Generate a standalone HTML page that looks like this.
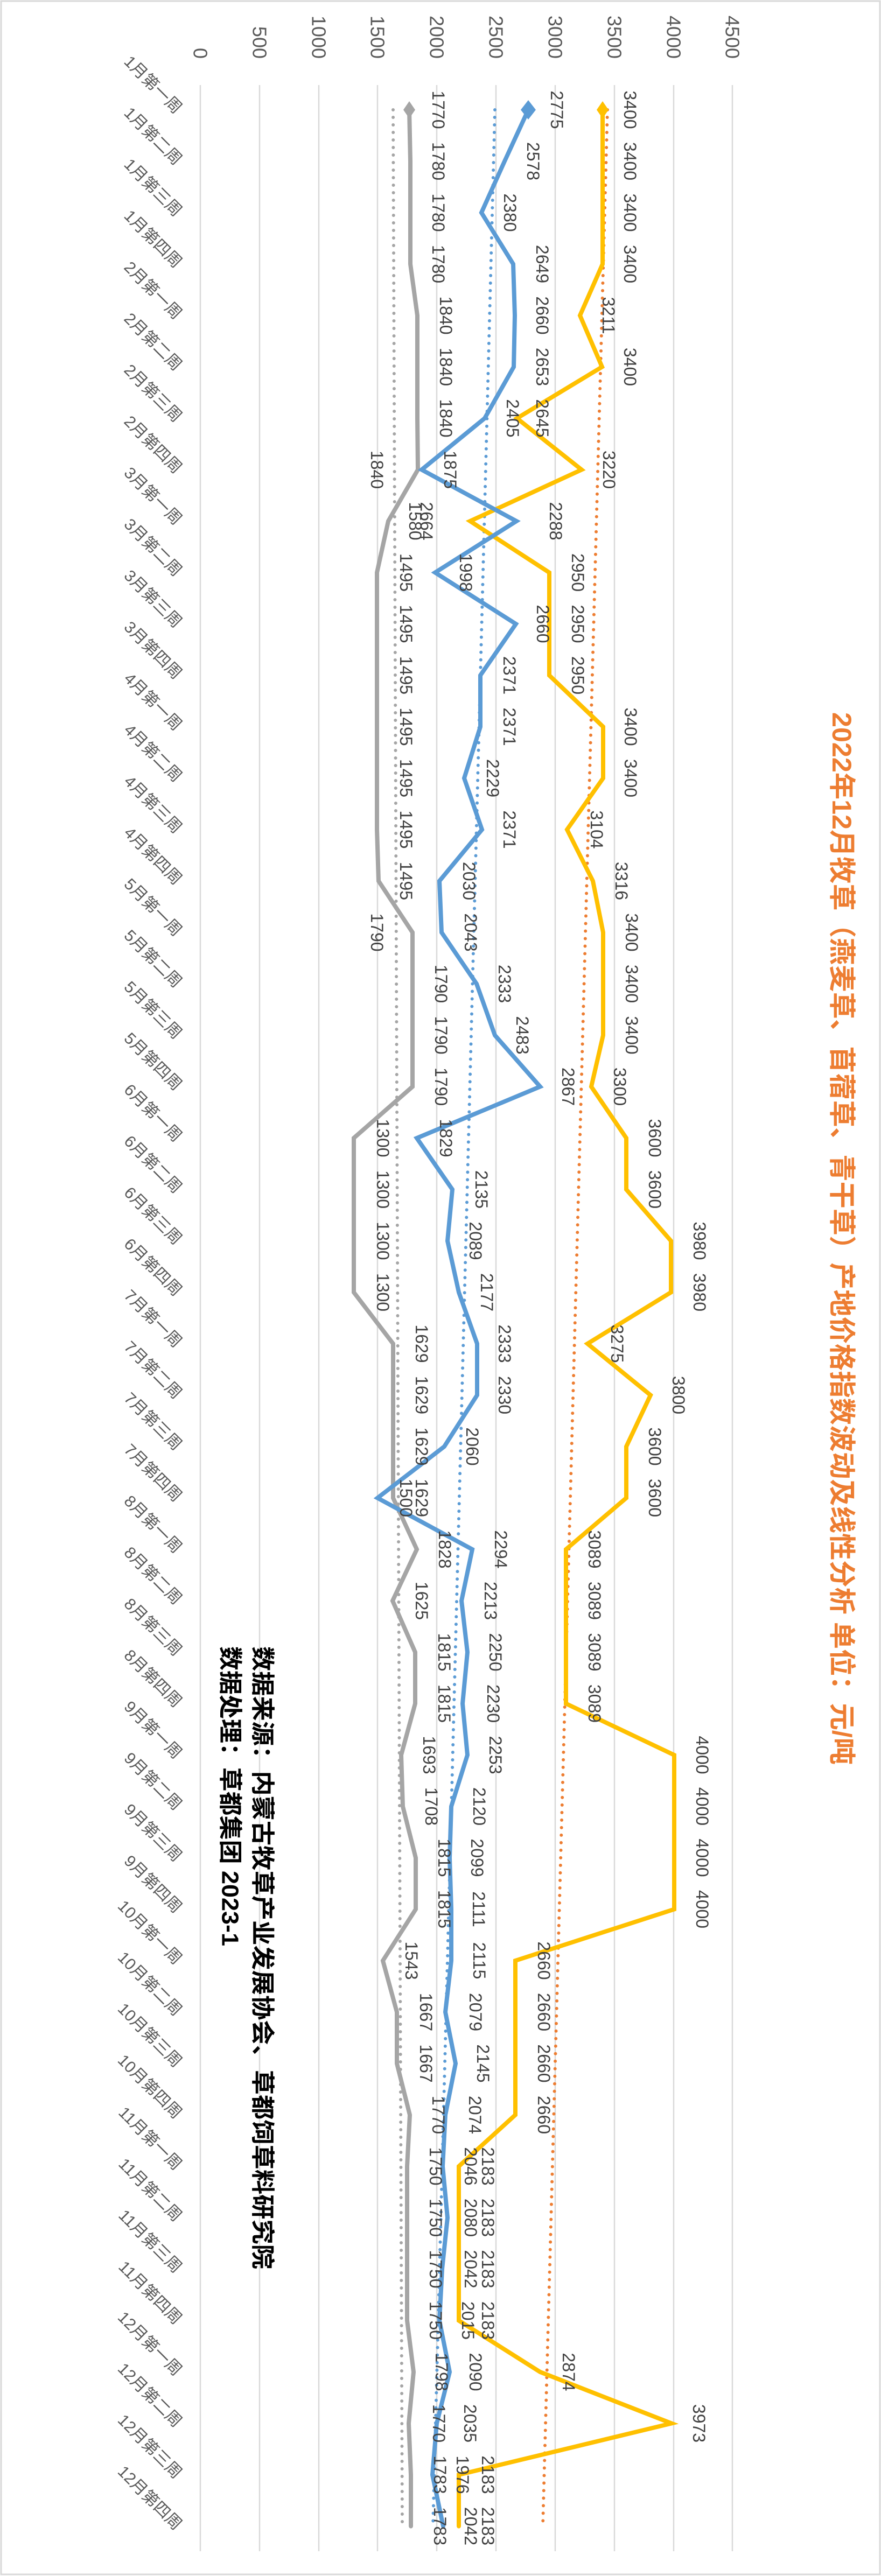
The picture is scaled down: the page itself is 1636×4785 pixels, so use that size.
<!DOCTYPE html>
<html><head><meta charset="utf-8"><style>
html,body{margin:0;padding:0;background:#fff;}
svg{display:block;}
text{font-family:"Liberation Sans","Noto Sans CJK SC",sans-serif;}
</style></head><body>
<svg width="1636" height="4785" viewBox="0 0 1636 4785" xmlns="http://www.w3.org/2000/svg">
<rect x="2" y="2" width="1632" height="4780" fill="#fff" stroke="#D9D9D9" stroke-width="3"/>
<!-- gridlines -->
<g stroke="#D9D9D9" stroke-width="2.5">
<line x1="372" y1="158" x2="372" y2="4739"/><line x1="482" y1="158" x2="482" y2="4739"/><line x1="592" y1="158" x2="592" y2="4739"/><line x1="701" y1="158" x2="701" y2="4739"/><line x1="811" y1="158" x2="811" y2="4739"/><line x1="921" y1="158" x2="921" y2="4739"/><line x1="1031" y1="158" x2="1031" y2="4739"/><line x1="1141" y1="158" x2="1141" y2="4739"/><line x1="1251" y1="158" x2="1251" y2="4739"/><line x1="1360" y1="158" x2="1360" y2="4739"/>
</g>
<!-- value axis labels -->
<g fill="#595959" font-size="36" text-anchor="end" dominant-baseline="central">
<text transform="translate(372,109) rotate(90)">0</text>
<text transform="translate(482,109) rotate(90)">500</text>
<text transform="translate(592,109) rotate(90)">1000</text>
<text transform="translate(701,109) rotate(90)">1500</text>
<text transform="translate(811,109) rotate(90)">2000</text>
<text transform="translate(921,109) rotate(90)">2500</text>
<text transform="translate(1031,109) rotate(90)">3000</text>
<text transform="translate(1141,109) rotate(90)">3500</text>
<text transform="translate(1251,109) rotate(90)">4000</text>
<text transform="translate(1360,109) rotate(90)">4500</text>
</g>
<!-- category labels -->
<g fill="#595959" font-size="30" text-anchor="end" dominant-baseline="central">
<text transform="translate(332,206) rotate(45)">1月第一周</text>
<text transform="translate(332,301.5) rotate(45)">1月第二周</text>
<text transform="translate(332,397) rotate(45)">1月第三周</text>
<text transform="translate(332,492.5) rotate(45)">1月第四周</text>
<text transform="translate(332,588) rotate(45)">2月第一周</text>
<text transform="translate(332,683.5) rotate(45)">2月第二周</text>
<text transform="translate(332,779) rotate(45)">2月第三周</text>
<text transform="translate(332,874.5) rotate(45)">2月第四周</text>
<text transform="translate(332,970) rotate(45)">3月第一周</text>
<text transform="translate(332,1065.5) rotate(45)">3月第二周</text>
<text transform="translate(332,1161) rotate(45)">3月第三周</text>
<text transform="translate(332,1256.5) rotate(45)">3月第四周</text>
<text transform="translate(332,1352) rotate(45)">4月第一周</text>
<text transform="translate(332,1447.5) rotate(45)">4月第二周</text>
<text transform="translate(332,1543) rotate(45)">4月第三周</text>
<text transform="translate(332,1638.5) rotate(45)">4月第四周</text>
<text transform="translate(332,1734) rotate(45)">5月第一周</text>
<text transform="translate(332,1829.5) rotate(45)">5月第二周</text>
<text transform="translate(332,1925) rotate(45)">5月第三周</text>
<text transform="translate(332,2020.5) rotate(45)">5月第四周</text>
<text transform="translate(332,2116) rotate(45)">6月第一周</text>
<text transform="translate(332,2211.5) rotate(45)">6月第二周</text>
<text transform="translate(332,2307) rotate(45)">6月第三周</text>
<text transform="translate(332,2402.5) rotate(45)">6月第四周</text>
<text transform="translate(332,2498) rotate(45)">7月第一周</text>
<text transform="translate(332,2593.5) rotate(45)">7月第二周</text>
<text transform="translate(332,2689) rotate(45)">7月第三周</text>
<text transform="translate(332,2784.5) rotate(45)">7月第四周</text>
<text transform="translate(332,2880) rotate(45)">8月第一周</text>
<text transform="translate(332,2975.5) rotate(45)">8月第二周</text>
<text transform="translate(332,3071) rotate(45)">8月第三周</text>
<text transform="translate(332,3166.5) rotate(45)">8月第四周</text>
<text transform="translate(332,3262) rotate(45)">9月第一周</text>
<text transform="translate(332,3357.5) rotate(45)">9月第二周</text>
<text transform="translate(332,3453) rotate(45)">9月第三周</text>
<text transform="translate(332,3548.5) rotate(45)">9月第四周</text>
<text transform="translate(332,3644) rotate(45)">10月第一周</text>
<text transform="translate(332,3739.5) rotate(45)">10月第二周</text>
<text transform="translate(332,3835) rotate(45)">10月第三周</text>
<text transform="translate(332,3930.5) rotate(45)">10月第四周</text>
<text transform="translate(332,4026) rotate(45)">11月第一周</text>
<text transform="translate(332,4121.5) rotate(45)">11月第二周</text>
<text transform="translate(332,4217) rotate(45)">11月第三周</text>
<text transform="translate(332,4312.5) rotate(45)">11月第四周</text>
<text transform="translate(332,4408) rotate(45)">12月第一周</text>
<text transform="translate(332,4503.5) rotate(45)">12月第二周</text>
<text transform="translate(332,4599) rotate(45)">12月第三周</text>
<text transform="translate(332,4694.5) rotate(45)">12月第四周</text>
</g>
<!-- trend lines -->
<g fill="none" stroke-width="6" stroke-linecap="round" stroke-dasharray="0 14">
<line x1="919" y1="204" x2="804" y2="4692" stroke="#5B9BD5"/>
<line x1="1128" y1="204" x2="1008" y2="4692" stroke="#ED7D31"/>
<line x1="730" y1="204" x2="747" y2="4692" stroke="#A5A5A5"/>
</g>
<!-- series lines -->
<g fill="none" stroke-width="8" stroke-linejoin="miter" stroke-linecap="round">
<polyline stroke="#A5A5A5" points="760,204 762,299.5 762,395 762,490.5 775,586 775,681.5 775,777 776,872.5 721,968 700,1063.5 700,1159 700,1254.5 700,1350 700,1445.5 700,1541 703,1636.5 766,1732 766,1827.5 766,1923 766,2018.5 657,2114 657,2209.5 657,2305 657,2400.5 730,2496 730,2591.5 730,2687 730,2782.5 774,2878 729,2973.5 771,3069 771,3164.5 745,3260 748,3355.5 772,3451 772,3546.5 711,3642 737,3737.5 737,3833 761,3928.5 756,4024 756,4119.5 756,4215 756,4310.5 768,4406 759,4501.5 763,4597 763,4692.5"/>
<polyline stroke="#FFC000" points="1119,204 1119,299.5 1119,395 1119,490.5 1077,586 1118,681.5 960,777 1080,872.5 873,968 1020,1063.5 1020,1159 1020,1254.5 1120,1350 1120,1445.5 1053,1541 1101,1636.5 1120,1732 1120,1827.5 1120,1923 1098,2018.5 1163,2114 1163,2209.5 1246,2305 1246,2400.5 1091,2496 1208,2591.5 1163,2687 1163,2782.5 1051,2878 1051,2973.5 1051,3069 1051,3164.5 1252,3260 1252,3355.5 1252,3451 1252,3546.5 957,3642 957,3737.5 957,3833 957,3928.5 852,4024 852,4119.5 852,4215 852,4310.5 1003,4406 1247,4501.5 852,4597 852,4692.5"/>
<polyline stroke="#5B9BD5" points="981,204 937,299.5 894,395 953,490.5 956,586 954,681.5 900,777 783,872.5 959,968 808,1063.5 958,1159 892,1254.5 892,1350 862,1445.5 895,1541 816,1636.5 820,1732 885,1827.5 919,1923 1003,2018.5 774,2114 840,2209.5 831,2305 852,2400.5 886,2496 886,2591.5 825,2687 701,2782.5 877,2878 857,2973.5 868,3069 859,3164.5 868,3260 838,3355.5 835,3451 838,3546.5 838,3642 827,3737.5 846,3833 827,3928.5 822,4024 831,4119.5 821,4215 816,4310.5 835,4406 811,4501.5 803,4597 823,4692.5"/>
</g>
<!-- markers -->
<polygon points="760,188 771,204 760,220 749,204" fill="#A5A5A5"/>
<polygon points="1119,188 1130,204 1119,220 1108,204" fill="#FFC000"/>
<polygon points="981,186 995,204 981,222 967,204" fill="#5B9BD5"/>
<!-- data labels -->
<g fill="#404040" font-size="32" text-anchor="middle" dominant-baseline="central">
<text transform="translate(1170,204) rotate(90)">3400</text><text transform="translate(1034,204) rotate(90)">2775</text><text transform="translate(814,204) rotate(90)">1770</text>
<text transform="translate(1170,299.5) rotate(90)">3400</text><text transform="translate(990,299.5) rotate(90)">2578</text><text transform="translate(814,299.5) rotate(90)">1780</text>
<text transform="translate(1170,395) rotate(90)">3400</text><text transform="translate(947,395) rotate(90)">2380</text><text transform="translate(814,395) rotate(90)">1780</text>
<text transform="translate(1170,490.5) rotate(90)">3400</text><text transform="translate(1007,490.5) rotate(90)">2649</text><text transform="translate(814,490.5) rotate(90)">1780</text>
<text transform="translate(1130,586) rotate(90)">3211</text><text transform="translate(1007,586) rotate(90)">2660</text><text transform="translate(828,586) rotate(90)">1840</text>
<text transform="translate(1170,681.5) rotate(90)">3400</text><text transform="translate(1007,681.5) rotate(90)">2653</text><text transform="translate(828,681.5) rotate(90)">1840</text>
<text transform="translate(1007,777) rotate(90)">2645</text><text transform="translate(952,777) rotate(90)">2405</text><text transform="translate(828,777) rotate(90)">1840</text>
<text transform="translate(1131,872.5) rotate(90)">3220</text><text transform="translate(836,872.5) rotate(90)">1875</text><text transform="translate(700,872.5) rotate(90)">1840</text>
<text transform="translate(1032,968) rotate(90)">2288</text><text transform="translate(792,968) rotate(90)">2664</text><text transform="translate(771,968) rotate(90)">1580</text>
<text transform="translate(1073,1063.5) rotate(90)">2950</text><text transform="translate(865,1063.5) rotate(90)">1998</text><text transform="translate(754,1063.5) rotate(90)">1495</text>
<text transform="translate(1073,1159) rotate(90)">2950</text><text transform="translate(1008,1159) rotate(90)">2660</text><text transform="translate(754,1159) rotate(90)">1495</text>
<text transform="translate(1073,1254.5) rotate(90)">2950</text><text transform="translate(946,1254.5) rotate(90)">2371</text><text transform="translate(754,1254.5) rotate(90)">1495</text>
<text transform="translate(1171,1350) rotate(90)">3400</text><text transform="translate(946,1350) rotate(90)">2371</text><text transform="translate(754,1350) rotate(90)">1495</text>
<text transform="translate(1171,1445.5) rotate(90)">3400</text><text transform="translate(915,1445.5) rotate(90)">2229</text><text transform="translate(754,1445.5) rotate(90)">1495</text>
<text transform="translate(1108,1541) rotate(90)">3104</text><text transform="translate(946,1541) rotate(90)">2371</text><text transform="translate(754,1541) rotate(90)">1495</text>
<text transform="translate(1154,1636.5) rotate(90)">3316</text><text transform="translate(871,1636.5) rotate(90)">2030</text><text transform="translate(754,1636.5) rotate(90)">1495</text>
<text transform="translate(1173,1732) rotate(90)">3400</text><text transform="translate(874,1732) rotate(90)">2043</text><text transform="translate(700,1732) rotate(90)">1790</text>
<text transform="translate(1173,1827.5) rotate(90)">3400</text><text transform="translate(937,1827.5) rotate(90)">2333</text><text transform="translate(819,1827.5) rotate(90)">1790</text>
<text transform="translate(1173,1923) rotate(90)">3400</text><text transform="translate(970,1923) rotate(90)">2483</text><text transform="translate(819,1923) rotate(90)">1790</text>
<text transform="translate(1151,2018.5) rotate(90)">3300</text><text transform="translate(1055,2018.5) rotate(90)">2867</text><text transform="translate(819,2018.5) rotate(90)">1790</text>
<text transform="translate(1216,2114) rotate(90)">3600</text><text transform="translate(828,2114) rotate(90)">1829</text><text transform="translate(711,2114) rotate(90)">1300</text>
<text transform="translate(1216,2209.5) rotate(90)">3600</text><text transform="translate(894,2209.5) rotate(90)">2135</text><text transform="translate(711,2209.5) rotate(90)">1300</text>
<text transform="translate(1299,2305) rotate(90)">3980</text><text transform="translate(883,2305) rotate(90)">2089</text><text transform="translate(711,2305) rotate(90)">1300</text>
<text transform="translate(1299,2400.5) rotate(90)">3980</text><text transform="translate(904,2400.5) rotate(90)">2177</text><text transform="translate(711,2400.5) rotate(90)">1300</text>
<text transform="translate(1146,2496) rotate(90)">3275</text><text transform="translate(937,2496) rotate(90)">2333</text><text transform="translate(783,2496) rotate(90)">1629</text>
<text transform="translate(1260,2591.5) rotate(90)">3800</text><text transform="translate(937,2591.5) rotate(90)">2330</text><text transform="translate(783,2591.5) rotate(90)">1629</text>
<text transform="translate(1216,2687) rotate(90)">3600</text><text transform="translate(877,2687) rotate(90)">2060</text><text transform="translate(783,2687) rotate(90)">1629</text>
<text transform="translate(1216,2782.5) rotate(90)">3600</text><text transform="translate(783,2782.5) rotate(90)">1629</text><text transform="translate(754,2782.5) rotate(90)">1500</text>
<text transform="translate(1104,2878) rotate(90)">3089</text><text transform="translate(930,2878) rotate(90)">2294</text><text transform="translate(826,2878) rotate(90)">1828</text>
<text transform="translate(1104,2973.5) rotate(90)">3089</text><text transform="translate(911,2973.5) rotate(90)">2213</text><text transform="translate(783,2973.5) rotate(90)">1625</text>
<text transform="translate(1104,3069) rotate(90)">3089</text><text transform="translate(920,3069) rotate(90)">2250</text><text transform="translate(825,3069) rotate(90)">1815</text>
<text transform="translate(1104,3164.5) rotate(90)">3089</text><text transform="translate(916,3164.5) rotate(90)">2230</text><text transform="translate(825,3164.5) rotate(90)">1815</text>
<text transform="translate(1304,3260) rotate(90)">4000</text><text transform="translate(920,3260) rotate(90)">2253</text><text transform="translate(797,3260) rotate(90)">1693</text>
<text transform="translate(1304,3355.5) rotate(90)">4000</text><text transform="translate(890,3355.5) rotate(90)">2120</text><text transform="translate(801,3355.5) rotate(90)">1708</text>
<text transform="translate(1304,3451) rotate(90)">4000</text><text transform="translate(886,3451) rotate(90)">2099</text><text transform="translate(825,3451) rotate(90)">1815</text>
<text transform="translate(1304,3546.5) rotate(90)">4000</text><text transform="translate(889,3546.5) rotate(90)">2111</text><text transform="translate(825,3546.5) rotate(90)">1815</text>
<text transform="translate(1010,3642) rotate(90)">2660</text><text transform="translate(890,3642) rotate(90)">2115</text><text transform="translate(764,3642) rotate(90)">1543</text>
<text transform="translate(1010,3737.5) rotate(90)">2660</text><text transform="translate(883,3737.5) rotate(90)">2079</text><text transform="translate(791,3737.5) rotate(90)">1667</text>
<text transform="translate(1010,3833) rotate(90)">2660</text><text transform="translate(897,3833) rotate(90)">2145</text><text transform="translate(791,3833) rotate(90)">1667</text>
<text transform="translate(1010,3928.5) rotate(90)">2660</text><text transform="translate(882,3928.5) rotate(90)">2074</text><text transform="translate(814,3928.5) rotate(90)">1770</text>
<text transform="translate(906,4024) rotate(90)">2183</text><text transform="translate(874,4024) rotate(90)">2046</text><text transform="translate(809,4024) rotate(90)">1750</text>
<text transform="translate(906,4119.5) rotate(90)">2183</text><text transform="translate(874,4119.5) rotate(90)">2080</text><text transform="translate(809,4119.5) rotate(90)">1750</text>
<text transform="translate(906,4215) rotate(90)">2183</text><text transform="translate(874,4215) rotate(90)">2042</text><text transform="translate(809,4215) rotate(90)">1750</text>
<text transform="translate(906,4310.5) rotate(90)">2183</text><text transform="translate(869,4310.5) rotate(90)">2015</text><text transform="translate(809,4310.5) rotate(90)">1750</text>
<text transform="translate(1056,4406) rotate(90)">2874</text><text transform="translate(883,4406) rotate(90)">2090</text><text transform="translate(820,4406) rotate(90)">1798</text>
<text transform="translate(1298,4501.5) rotate(90)">3973</text><text transform="translate(873,4501.5) rotate(90)">2035</text><text transform="translate(815,4501.5) rotate(90)">1770</text>
<text transform="translate(906,4597) rotate(90)">2183</text><text transform="translate(859,4597) rotate(90)">1976</text><text transform="translate(817,4597) rotate(90)">1783</text>
<text transform="translate(906,4692.5) rotate(90)">2183</text><text transform="translate(874,4692.5) rotate(90)">2042</text><text transform="translate(817,4692.5) rotate(90)">1783</text>
</g>
<!-- title -->
<text transform="translate(1563,1323) rotate(90)" font-size="50" font-weight="bold" fill="#ED7D31" dominant-baseline="central" textLength="1955" lengthAdjust="spacingAndGlyphs">2022年12月牧草（燕麦草、苜蓿草、青干草）产地价格指数波动及线性分析 单位：元/吨</text>
<!-- source -->
<text transform="translate(487,3058) rotate(90)" font-size="44" font-weight="bold" fill="#000" dominant-baseline="central" textLength="1157" lengthAdjust="spacingAndGlyphs">数据来源：内蒙古牧草产业发展协会、草都饲草料研究院</text>
<text transform="translate(427,3058) rotate(90)" font-size="44" font-weight="bold" fill="#000" dominant-baseline="central" textLength="557" lengthAdjust="spacingAndGlyphs">数据处理：草都集团 2023-1</text>
</svg>
</body></html>
